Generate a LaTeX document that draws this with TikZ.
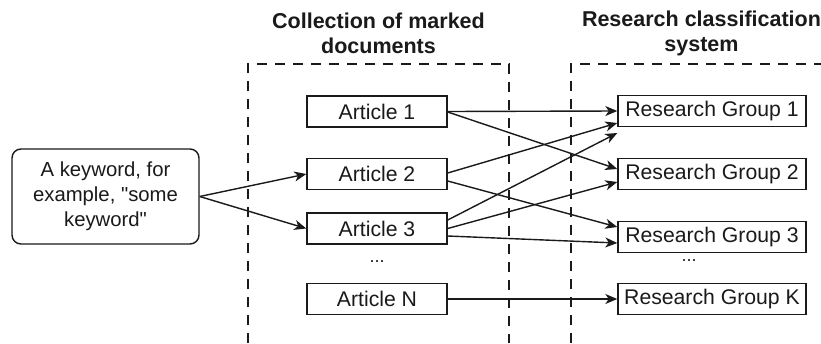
\documentclass[tikz,border=0pt]{standalone}
\usepackage{fontspec}
\setmainfont{Liberation Sans}
\usetikzlibrary{arrows.meta,calc}
\definecolor{ink}{HTML}{1A1A1A}
\begin{document}
\begin{tikzpicture}[x=1pt,y=-1pt,
  box/.style={draw=ink, text=ink, line width=1.4pt, minimum height=31pt, inner sep=0pt, font=\fontsize{21.2}{25}\selectfont},
  artbox/.style={box, minimum width=140pt},
  grpbox/.style={box, minimum width=188pt},
  kwbox/.style={draw=ink, text=ink, line width=1.4pt, rounded corners=9pt, minimum width=187pt, minimum height=95pt, align=center, inner sep=0pt, font=\fontsize{20.3}{25}\selectfont},
  group/.style={draw=ink, line width=1.4pt, dash pattern=on 10pt off 8pt},
  title/.style={align=center, text=ink, font=\fontsize{21.5}{25}\selectfont\bfseries},
  dots/.style={text=ink, font=\fontsize{18}{20}\selectfont},
  arr/.style={draw=ink, line width=1.4pt, -{Stealth[length=12pt,width=10pt,inset=3.5pt]}}
]
\path[use as bounding box, fill=white] (0,0) rectangle (821,343);

% dashed groups
\draw[group] (248,343) -- (248,64) -- (509,64) -- (509,343);
\draw[group] (571,343) -- (571,64) -- (822,64);

% titles
\node[title] (t1) at (378.5,33) {Collection of marked\\documents};
\node[title] (t2) at (701.5,33) {Research classification\\system};

% keyword
\node[kwbox] (kw) at (105.5,196.5) {A keyword, for\\example, \textquotedbl some\\keyword\textquotedbl};

% articles
\node[artbox] (a1) at (377,111.5) {Article 1};
\node[artbox] (a2) at (377,174) {Article 2};
\node[artbox] (a3) at (377,228.5) {Article 3};
\node[dots] (ad) at (377,262) {...};
\node[artbox] (an) at (377,299) {Article N};

% groups
\node[grpbox] (g1) at (712,111) {Research Group 1};
\node[grpbox] (g2) at (712,174) {Research Group 2};
\node[grpbox] (g3) at (712,237) {Research Group 3};
\node[dots] (gd) at (689,261) {...};
\node[grpbox] (gk) at (712,299) {Research Group K};

% connectors
\draw[arr] (kw.east) -- (a2.west);
\draw[arr] (kw.east) -- (a3.west);

\draw[arr] (a1.east) -- (g1.west);
\draw[arr] ($(a1.east)+(0,0.5)$) -- ($(g2.west)+(0,-5)$);
\draw[arr] ($(a2.east)+(0,-1)$) -- ($(g1.west)+(0,12)$);
\draw[arr] ($(a2.east)+(0,7)$) -- ($(g3.west)+(0,-10)$);
\draw[arr] ($(a3.east)+(0,-8.5)$) -- ($(g1.west)+(0,22)$);
\draw[arr] ($(a3.east)+(0,0)$) -- ($(g2.west)+(0,8)$);
\draw[arr] ($(a3.east)+(0,7.5)$) -- ($(g3.west)+(0,6)$);
\draw[arr] (an.east) -- (gk.west);
\end{tikzpicture}
\end{document}
